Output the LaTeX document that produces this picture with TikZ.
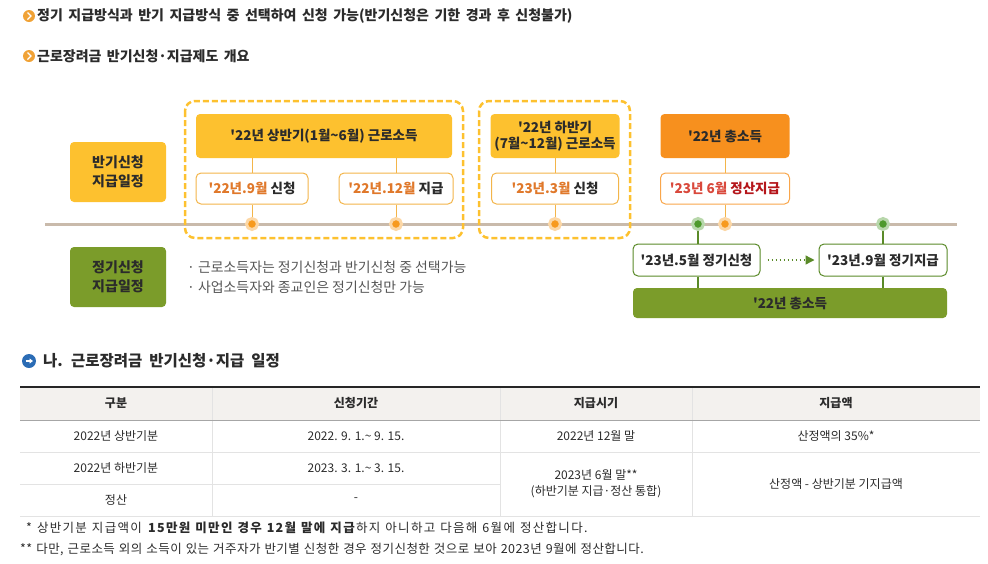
\documentclass[tikz,border=0pt]{standalone}
\usepackage{fontspec}
\setmainfont{Noto Sans CJK KR}
\usetikzlibrary{arrows.meta}
\newcommand\apos{\textquotesingle}
\newcommand\wsp[1]{\spaceskip=#1pt plus 1pt\relax}
\definecolor{cyel}{HTML}{FDC12F}
\definecolor{cyborder}{HTML}{F3B54A}
\definecolor{corg}{HTML}{F7901E}
\definecolor{corgtxt}{HTML}{E0782A}
\definecolor{cred}{HTML}{D9483B}
\definecolor{cdred}{HTML}{B5161B}
\definecolor{cgrn}{HTML}{7B9C2A}
\definecolor{cgrnline}{HTML}{5A8A28}
\definecolor{cdot}{HTML}{F79A1E}
\definecolor{cgdot}{HTML}{4E9A2C}
\definecolor{ctl}{HTML}{C9BAAB}
\definecolor{ctxt}{HTML}{2B2B2B}
\definecolor{cgray}{HTML}{555555}
\definecolor{cline}{HTML}{E3E3E3}
\definecolor{chead}{HTML}{F3F1EE}
\definecolor{cblue}{HTML}{2B6CB5}
\definecolor{cbul}{HTML}{F0A236}
\begin{document}
\begin{tikzpicture}[x=1pt,y=-1pt,
  every node/.style={inner sep=0, text=ctxt},
  lab/.style={rounded corners=4, minimum width=96, minimum height=60, align=center, font=\bfseries\fontsize{14}{19}\selectfont},
  ybox/.style={fill=cyel, rounded corners=4, minimum height=44, align=center, font=\bfseries\fontsize{13.5}{17}\selectfont},
  obox/.style={ybox, fill=corg},
  wbox/.style={draw=cyborder, line width=1, fill=white, rounded corners=5, minimum height=31, font=\bfseries\fontsize{13.5}{17}\selectfont},
  gbox/.style={draw=cgrnline, line width=1, fill=white, rounded corners=5, minimum height=32, font=\bfseries\fontsize{13.5}{17}\selectfont},
  gbar/.style={fill=cgrn, rounded corners=4, minimum height=30, font=\bfseries\fontsize{13.5}{17}\selectfont},
  conn/.style={draw=cyborder, line width=1},
  gconn/.style={draw=cgrnline, line width=1.2},
  odot/.style={circle, fill=cdot, draw=cdot!40, line width=3, minimum size=11},
  gdot/.style={circle, fill=cgdot, draw=cgdot!40, line width=3, minimum size=11},
  dashbox/.style={draw=cyel, line width=2.5, dash pattern=on 6 off 3, rounded corners=10},
  hd/.style={anchor=west, font=\bfseries\fontsize{14}{16}\selectfont},
  bul/.style={circle, fill=cbul, minimum size=12},
  th/.style={font=\bfseries\fontsize{12}{15}\selectfont, text=ctxt},
  td/.style={font=\fontsize{12}{16}\selectfont, text=ctxt, align=center},
  tline/.style={draw=cline, line width=1}
]
\useasboundingbox (0,0) rectangle (988,563);

% headings
\node[bul] (b1) at (29,16) {};
\draw[white, line width=1.4] ([shift={(-1.5,-3.5)}]b1.center) -- ([shift={(2,0)}]b1.center) -- ([shift={(-1.5,3.5)}]b1.center);
\node[hd] (h1) at (37,16) {\wsp{5.5}정기 지급방식과 반기 지급방식 중 선택하여 신청 가능(반기신청은 기한 경과 후 신청불가)};
\node[bul] (b2) at (29,56) {};
\draw[white, line width=1.4] ([shift={(-1.5,-3.5)}]b2.center) -- ([shift={(2,0)}]b2.center) -- ([shift={(-1.5,3.5)}]b2.center);
\node[hd] (h2) at (37,56) {\wsp{5.3}근로장려금 반기신청·지급제도 개요};

% timeline
\coordinate (tl0) at (45,224);
\coordinate (tl1) at (957,224);
\draw[ctl, line width=3] (tl0) -- (tl1);

% dashed groups
\draw[dashbox] (185,101) rectangle (463,238);
\draw[dashbox] (479,101) rectangle (630,238);

% left labels
\node[lab, fill=cyel] (lab1) at (118,172) {반기신청\\지급일정};
\node[lab, fill=cgrn] (lab2) at (118,277) {정기신청\\지급일정};

% coordinates of dots
\coordinate (p1) at (252,224);
\coordinate (p2) at (396,224);
\coordinate (p3) at (555,224);
\coordinate (p4) at (725,224);
\coordinate (q1) at (698,224);
\coordinate (q2) at (883,224);

% upper boxes
\node[ybox, minimum width=256] (t1) at (324,136) {\apos22년 상반기(1월\textasciitilde6월) 근로소득};
\node[wbox, minimum width=112] (s1) at (252,188.5) {\textcolor{corgtxt}{\apos22년.9월} 신청};
\node[wbox, minimum width=114] (s2) at (396,188.5) {\textcolor{corgtxt}{\apos22년.12월} 지급};
\node[ybox, minimum width=129, font=\bfseries\fontsize{13.5}{16.5}\selectfont] (t2) at (555,136) {\apos22년 하반기\\(7월\textasciitilde12월) 근로소득};
\node[wbox, minimum width=127] (s3) at (555,188.5) {\textcolor{corgtxt}{\apos23년.3월} 신청};
\node[obox, minimum width=129] (t3) at (725,136) {\apos22년 총소득};
\node[wbox, draw=corg!80, minimum width=129] (s4) at (725,188.5) {\textcolor{cred}{\apos23년 6월} \textcolor{cdred}{정산지급}};

\draw[conn] (t1.south -| p1) -- (s1.north);
\draw[conn] (s1.south) -- (p1);
\draw[conn] (t1.south -| p2) -- (s2.north);
\draw[conn] (s2.south) -- (p2);
\draw[conn] (t2.south) -- (s3.north);
\draw[conn] (s3.south) -- (p3);
\draw[conn] (t3.south) -- (s4.north);
\draw[conn] (s4.south) -- (p4);

% lower boxes
\node[gbox, minimum width=127] (r1) at (696.5,260) {\apos23년.5월 정기신청};
\node[gbox, minimum width=128] (r2) at (883,260) {\apos23년.9월 정기지급};
\node[gbar, minimum width=314] (bar) at (790,303) {\apos22년 총소득};
\draw[gconn] (q1) -- (r1.north -| q1);
\draw[gconn] (r1.south -| q1) -- (bar.north -| q1);
\draw[gconn] (q2) -- (r2.north);
\draw[gconn] (r2.south) -- (bar.north -| q2);
\draw[cgrnline, line width=1.3, dash pattern=on 1.5 off 2.5, -{Triangle[length=9,width=9]}, shorten <=7, shorten >=4] (r1.east) -- (r2.west);

% dots
\node[odot] (dp1) at (p1) {};
\node[odot] (dp2) at (p2) {};
\node[odot] (dp3) at (p3) {};
\node[odot] (dp4) at (p4) {};
\node[gdot] (dq1) at (q1) {};
\node[gdot] (dq2) at (q2) {};

% bullets
\node[anchor=west, text=cgray, font=\fontsize{13.9}{16}\selectfont] (n1) at (187,267) {·\ 근로소득자는 정기신청과 반기신청 중 선택가능};
\node[anchor=west, text=cgray, font=\fontsize{13.9}{16}\selectfont] (n2) at (187,287) {·\ 사업소득자와 종교인은 정기신청만 가능};

% section heading
\node[circle, fill=cblue, minimum size=14] (b3) at (29,361) {};
\draw[white, line width=1.4, -{Triangle[length=3.5,width=5]}] ([shift={(-3.5,0)}]b3.center) -- ([shift={(4,0)}]b3.center);
\node[anchor=west, font=\bfseries\fontsize{15.5}{18}\selectfont] (h3) at (43,361) {\wsp{7}나. 근로장려금 반기신청·지급 일정};

% table
\fill[chead] (20,387) rectangle (980,420);
\draw[tline] (212,387) -- (212,516);
\draw[tline] (500,387) -- (500,516);
\draw[tline] (692,387) -- (692,516);
\draw[tline] (20,452) -- (980,452);
\draw[tline] (20,484) -- (500,484);
\draw[tline] (20,516) -- (980,516);
\draw[black!85, line width=1.5] (20,387) -- (980,387);
\draw[black!35, line width=1] (20,420) -- (980,420);

\node[th] (c11) at (116,403) {구분};
\node[th] (c12) at (356,403) {신청기간};
\node[th] (c13) at (596,403) {지급시기};
\node[th] (c14) at (836,403) {지급액};
\node[td] (c21) at (116,436) {2022년 상반기분};
\node[td] (c22) at (356,436) {2022. 9. 1.\textasciitilde\ 9. 15.};
\node[td] (c23) at (596,436) {2022년 12월 말};
\node[td] (c24) at (836,436) {산정액의 35\%*};
\node[td] (c31) at (116,468) {2022년 하반기분};
\node[td] (c32) at (356,468) {2023. 3. 1.\textasciitilde\ 3. 15.};
\node[td] (c33) at (596,484) {2023년 6월 말**\\(하반기분 지급·정산 통합)};
\node[td] (c34) at (836,484) {산정액 - 상반기분 기지급액};
\node[td] (c41) at (116,500) {정산};
\node[td] (c42) at (356,500) {-};

% footnotes
\node[anchor=west, font=\fontsize{12.5}{15}\selectfont] (f1) at (26,528) {\addfontfeatures{LetterSpace=10.5}\wsp{5}* 상반기분 지급액이 \textbf{15만원 미만인 경우 12월 말에 지급}하지 아니하고 다음해 6월에 정산합니다.};
\node[anchor=west, font=\fontsize{12.5}{15}\selectfont] (f2) at (20,549) {\addfontfeatures{LetterSpace=3.5}\wsp{4}** 다만, 근로소득 외의 소득이 있는 거주자가 반기별 신청한 경우 정기신청한 것으로 보아 2023년 9월에 정산합니다.};
\end{tikzpicture}
\end{document}
